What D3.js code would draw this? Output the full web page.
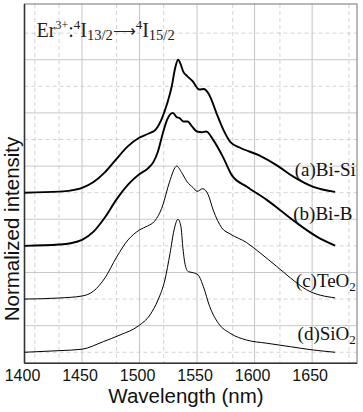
<!DOCTYPE html>
<html><head><meta charset="utf-8">
<script src="https://cdn.jsdelivr.net/npm/d3@7/dist/d3.min.js"></script>
<style>body{margin:0;background:#fff}svg{display:block}</style>
</head><body><svg id="c" width="363" height="412"></svg>
<script>
// ---- data ----
const xTicks = [1400, 1450, 1500, 1550, 1600, 1650];
const xMinorGrid = [1409, 1430, 1480, 1521, 1581, 1622, 1682];
const yGrid = [0, 0.2, 0.4, 0.6, 0.8, 1.0, 1.2, 1.4, 1.6, 1.8, 2.0, 2.2, 2.4];
const seriesNames = ["(a)Bi-Si", "(b)Bi-B", "(c)TeO2", "(d)SiO2"];
const offsets = [1.2, 0.8, 0.4, 0];

const wlA = [1400,1430,1440,1450,1460,1470,1480,1490,1500,1508,1514,1519,1524,1528,1531,1533.5,1536,1538,1541,1546,1552,1556,1559,1562,1567,1573,1579,1587,1604,1619,1634,1651,1670];
const inA = [0,0.008,0.016,0.036,0.08,0.155,0.255,0.35,0.415,0.445,0.475,0.55,0.67,0.8,0.94,1.0,0.96,0.91,0.88,0.84,0.776,0.78,0.758,0.71,0.595,0.47,0.38,0.34,0.28,0.207,0.119,0.044,0.006];

const wlB = [1400,1430,1440,1450,1460,1470,1480,1490,1500,1507,1512,1516,1520,1524,1529,1532,1535,1538,1542,1545,1550,1554,1558,1564,1573,1580,1593,1610.6,1622,1637,1654,1670];
const inB = [0,0.01,0.02,0.045,0.107,0.215,0.35,0.46,0.54,0.58,0.63,0.71,0.84,0.95,1.0,0.97,0.96,0.935,0.935,0.905,0.86,0.855,0.86,0.797,0.66,0.534,0.446,0.346,0.27,0.17,0.07,0.002];

const wlC = [1400,1430,1450,1460,1470,1480,1490,1500,1507,1513,1520,1526,1532.3,1536.7,1541,1546.8,1550,1555,1559.6,1564,1571.5,1578.7,1593,1604.8,1619,1631,1645,1670];
const inC = [0,0.008,0.023,0.06,0.16,0.315,0.445,0.52,0.55,0.585,0.7,0.88,1.0,0.95,0.886,0.836,0.81,0.83,0.786,0.67,0.535,0.49,0.425,0.347,0.247,0.16,0.071,0.009];

const wlD = [1400,1430,1450,1468.5,1483,1499,1509,1516,1522,1526.5,1530,1533.4,1536,1537.5,1539.6,1542.4,1546.8,1551,1555.5,1561,1568.5,1578.7,1593,1610.6,1631,1651,1670];
const inD = [0,0.012,0.023,0.08,0.13,0.198,0.28,0.393,0.543,0.744,0.92,1.0,0.944,0.8,0.66,0.606,0.598,0.58,0.493,0.343,0.218,0.143,0.092,0.068,0.042,0.017,0];

const seriesWl = [wlA, wlB, wlC, wlD];
const seriesIn = [inA, inB, inC, inD];

// ---- layout ----
const svg = d3.select("#c");
const L = 24.5, R = 357, T = 4, B = 363.3;
const x = d3.scaleLinear().domain([1400, 1689]).range([L, R]);
const y = d3.scaleLinear().domain([-0.083, 2.619]).range([B, T]);

// grid
const g = svg.append("g");
g.selectAll(".vminor").data(xMinorGrid).join("line")
  .attr("x1", d => x(d)).attr("x2", d => x(d)).attr("y1", T).attr("y2", B)
  .attr("stroke", "#c8c8c8").attr("stroke-width", 0.8).attr("stroke-dasharray", "4,3");
g.selectAll(".vmajor").data(xTicks.slice(1)).join("line")
  .attr("x1", d => x(d)).attr("x2", d => x(d)).attr("y1", T).attr("y2", B)
  .attr("stroke", "#c4c4c4").attr("stroke-width", 1);
g.selectAll(".hgrid").data(yGrid).join("line")
  .attr("x1", L).attr("x2", R).attr("y1", d => y(d)).attr("y2", d => y(d))
  .attr("stroke", "#c8c8c8").attr("stroke-width", (d, i) => i % 2 ? 1 : 0.8)
  .attr("stroke-dasharray", (d, i) => i % 2 ? null : "4,3");

// frame
svg.append("rect").attr("x", L).attr("y", T).attr("width", R - L).attr("height", B - T)
  .attr("fill", "none").attr("stroke", "#8a8a8a").attr("stroke-width", 1.2);
svg.append("line").attr("x1", L).attr("x2", L).attr("y1", T).attr("y2", B).attr("stroke", "#333").attr("stroke-width", 1.5);
svg.append("line").attr("x1", L).attr("x2", R).attr("y1", B).attr("y2", B).attr("stroke", "#333").attr("stroke-width", 1.5);

// curves
const line = d3.line().curve(d3.curveMonotoneX)
  .x(d => x(d[0])).y(d => y(d[1]));
const widths = [1.9, 1.9, 1, 1];
seriesWl.forEach((wl, i) => {
  const pts = wl.map((w, j) => [w, seriesIn[i][j] + offsets[i]]);
  svg.append("path").attr("d", line(pts)).attr("fill", "none")
    .attr("stroke", "#000").attr("stroke-width", widths[i]).attr("stroke-linejoin", "round");
});

// series labels
const labelY = [1.326, 0.995, 0.49, 0.092];
const labelEnd = [1688, 1685, 1688, 1688];
seriesNames.forEach((name, i) => {
  const m = name.match(/^(.*?)(\d)?$/);
  const t = svg.append("text").attr("x", x(labelEnd[i])).attr("y", y(labelY[i]))
    .attr("text-anchor", "end").attr("font-family", "Liberation Serif, Times New Roman, serif")
    .attr("font-size", 19).attr("fill", "#111");
  t.append("tspan").text(m[1]);
  if (m[2]) t.append("tspan").attr("font-size", 13).attr("dy", 4).text(m[2]);
});

// title
const title = svg.append("text").attr("x", 36.5).attr("y", 36.7)
  .attr("font-family", "Liberation Serif, Times New Roman, serif").attr("font-size", 20).attr("fill", "#222");
const parts = [["Er",20,0],["3+",12,-8],[":",20,8],["4",13,-8],["I",20,8],["13/2",14.5,3],["\u27F6",16,-4],["4",13,-7],["I",20,8],["15/2",14.5,3]];
parts.forEach(p => {
  const ts = title.append("tspan").attr("font-size", p[1]).attr("dy", p[2]).text(p[0]);
  if (p[0] === "\u27F6") ts.attr("font-family", "DejaVu Sans, sans-serif").attr("font-weight", 200);
});

// x tick labels
svg.selectAll(".xt").data(xTicks).join("text")
  .attr("x", d => x(d) - 2).attr("y", 380.5).attr("text-anchor", "middle")
  .attr("font-family", "Liberation Sans, Arial, sans-serif").attr("font-size", 16).attr("fill", "#111")
  .text(d => d);

// axis titles
svg.append("text").attr("x", 186).attr("y", 403).attr("text-anchor", "middle")
  .attr("font-family", "Liberation Sans, Arial, sans-serif").attr("font-size", 20.5).attr("fill", "#111")
  .text("Wavelength (nm)");
svg.append("text").attr("transform", "translate(19,229) rotate(-90)").attr("text-anchor", "middle")
  .attr("font-family", "Liberation Sans, Arial, sans-serif").attr("font-size", 20.5).attr("fill", "#111")
  .text("Normalized intensity");
</script></body></html>
